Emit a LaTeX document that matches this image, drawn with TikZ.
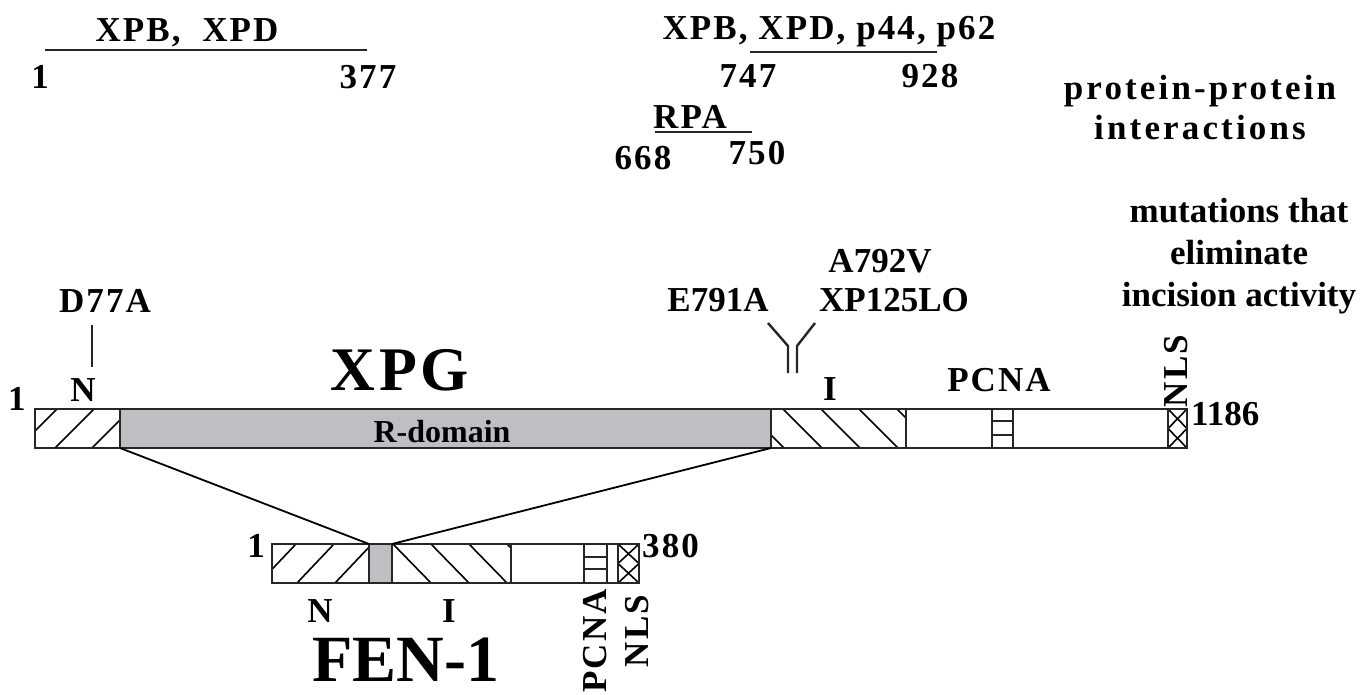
\documentclass[tikz,border=0pt]{standalone}
\usepackage{fontspec}
\setmainfont{Liberation Serif}[LetterSpace=6]
\newfontfamily\tightserif{Liberation Serif}[LetterSpace=0]
\newfontfamily\wideserif{Liberation Serif}[LetterSpace=9]
\definecolor{rgrey}{RGB}{190,191,195}
\tikzset{
  lbl/.style={font=\bfseries\fontsize{35}{42}\selectfont, inner sep=0pt, anchor=base},
  tight/.style={font=\tightserif\bfseries\fontsize{35}{42}\selectfont, inner sep=0pt, anchor=base},
  wide/.style={font=\wideserif\bfseries\fontsize{35}{40}\selectfont, inner sep=0pt, anchor=base},
  big/.style={font=\bfseries\fontsize{62}{62}\selectfont, inner sep=0pt, anchor=base},
  small/.style={font=\tightserif\bfseries\fontsize{32}{32}\selectfont, inner sep=0pt, anchor=base},
  bar/.style={draw=black!85, line width=2.6pt},
  hatch/.style={line width=1.6pt},
  link/.style={line width=1.8pt},
  rule/.style={line width=2.4pt, black!85},
}
\begin{document}
\begin{tikzpicture}[x=1pt,y=-1pt]
	\useasboundingbox (0,0) rectangle (1369,694);
	% protein-protein interactions
	\node[lbl] (xpbL) at (187,41) {XPB,\ \ XPD};
	\node[lbl] (oneL) at (40,88) {1};
	\node[lbl] (n377) at (368,88) {377};
	\node[lbl] (xpbR) at (829,39) {XPB, XPD, p44, p62};
	\node[lbl] (n747) at (748,87) {747};
	\node[lbl] (n928) at (930,87) {928};
	\node[lbl] (rpa) at (690,128) {RPA};
	\node[lbl] (n668) at (643,169) {668};
	\node[lbl] (n750) at (757,164) {750};
	\node[wide, align=center, anchor=center] (ppi) at (1200,108) {protein-protein\\interactions};
	\coordinate (ulA) at (45,50);  \coordinate (ulB) at (367,50);
	\coordinate (urA) at (750,52); \coordinate (urB) at (937,52);
	\coordinate (rpA) at (655,132); \coordinate (rpB) at (752,132);
	\draw[rule] (ulA) -- (ulB);
	\draw[rule] (urA) -- (urB);
	\draw[rule] (rpA) -- (rpB);

	% mutations
	\node[tight, align=center, anchor=center] (mut) at (1239,256) {mutations that\\eliminate\\incision activity};
	\node[tight] (a792) at (880,272) {A792V};
	\node[tight] (e791) at (718,311) {E791A};
	\node[tight] (xp125) at (894,311) {XP125LO};
	\node[lbl] (d77a) at (105,312) {D77A};
	\coordinate (tickT) at (92,325); \coordinate (tickB) at (92,367);
	\draw[rule] (tickT) -- (tickB);
	\draw[rule] (768,323) -- (788,346) -- (788,373);
	\draw[rule] (815,323) -- (797,346) -- (797,373);

	% XPG
	\node[big] (xpg) at (400,390) {XPG};
	\node[lbl] (oneX) at (17,410) {1};
	\node[lbl] (nX) at (83,401) {N};
	\node[lbl] (iX) at (830,400) {I};
	\node[lbl] (pcnaX) at (999,391) {PCNA};
	\node[lbl, rotate=90, anchor=center] (nlsX) at (1176,371) {NLS};
	\node[tight, anchor=base west] (endX) at (1191,425) {1186};
	\fill[rgrey] (120,409) rectangle (771,448);
	\node[small] (rdom) at (442,442) {R-domain};
	\begin{scope}
		\clip (35,409) rectangle (120,448);
		\foreach \x in {18,55,...,166} \draw[hatch] (\x,448) -- ++(39,-39);
	\end{scope}
	\begin{scope}
		\clip (771,409) rectangle (906,448);
		\foreach \x in {745,783,...,900} \draw[hatch] (\x,409) -- ++(39,39);
	\end{scope}
	\begin{scope}
		\clip (1168,409) rectangle (1187,448);
		\foreach \y in {409,428.5} {
			\draw[hatch] (1168,\y) -- ++(19,19.5);
			\draw[hatch] (1187,\y) -- ++(-19,19.5);
		}
	\end{scope}
	\draw[bar] (35,409) rectangle (1187,448);
	\foreach \x in {120,771,906,992,1013,1168} \draw[bar] (\x,409) -- (\x,448);
	\foreach \y in {421,435} \draw[bar] (992,\y) -- (1013,\y);

	% FEN-1
	\node[lbl] (oneF) at (256,557) {1};
	\node[lbl, anchor=base west] (endF) at (642,557) {380};
	\node[lbl] (nF) at (320,622) {N};
	\node[lbl] (iF) at (449,622) {I};
	\node[font=\tightserif\bfseries\fontsize{66}{66}\selectfont, inner sep=0pt, anchor=base] (fen) at (406,681) {FEN-1};
	\node[lbl, rotate=90, anchor=center] (pcnaF) at (595,641) {PCNA};
	\node[lbl, rotate=90, anchor=center] (nlsF) at (637,631) {NLS};
	\fill[rgrey] (369,544) rectangle (392,583);
	\begin{scope}
		\clip (272,544) rectangle (369,583);
		\foreach \x in {259,297,335} \draw[hatch] (\x,583) -- ++(37,-39);
	\end{scope}
	\begin{scope}
		\clip (392,544) rectangle (511,583);
		\foreach \x in {393,431,...,508} \draw[hatch] (\x,544) -- ++(38,39);
	\end{scope}
	\begin{scope}
		\clip (618,544) rectangle (639,583);
		\foreach \y in {544,563.5} {
			\draw[hatch] (618,\y) -- ++(21,19.5);
			\draw[hatch] (639,\y) -- ++(-21,19.5);
		}
	\end{scope}
	\draw[bar] (272,544) rectangle (639,583);
	\foreach \x in {369,392,511,584,607,618} \draw[bar] (\x,544) -- (\x,583);
	\foreach \y in {557,569} \draw[bar] (584,\y) -- (607,\y);

	% R-domain mapped onto FEN-1
	\coordinate (rdL) at (120,448); \coordinate (rdR) at (771,448);
	\coordinate (fgL) at (369,544); \coordinate (fgR) at (392,544);
	\draw[link] (rdL) -- (fgL);
	\draw[link] (rdR) -- (fgR);
\end{tikzpicture}
\end{document}
